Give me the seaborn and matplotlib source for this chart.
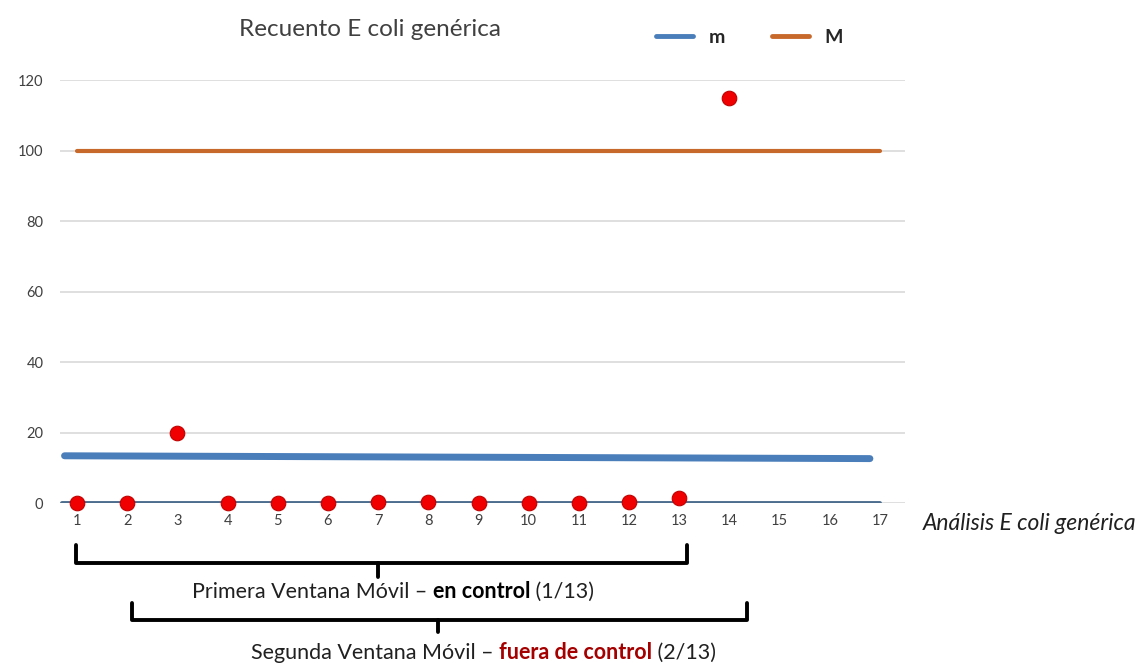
import seaborn as sns
import pandas as pd
import numpy as np
import matplotlib
matplotlib.use('Agg')
import matplotlib.pyplot as plt

# data
analisis = list(range(1, 18))
muestra_x = [1, 2, 3, 4, 5, 6, 7, 8, 9, 10, 11, 12, 13, 14]
recuento = [0, 0, 20, 0, 0, 0, 0.3, 0.3, 0, 0, 0, 0.3, 1.5, 115]
m_x = [0.75, 16.8]
m_val = [13.4, 12.6]
M_x = [1, 17]
M_val = [100, 100]
base_x = [0.7, 17]
base_val = [0, 0]
y_ticks = [0, 20, 40, 60, 80, 100, 120]

sns.set_theme(style="white")
plt.rcParams['font.family'] = ['Lato', 'DejaVu Sans']

fig = plt.figure(figsize=(11.39, 6.63), dpi=100)
ax = fig.add_axes([0.0527, 0.2413, 0.7419, 0.638])

for yv in y_ticks:
    ax.axhline(yv, color="#d9d9d9", lw=1.2, zorder=0)

sns.lineplot(x=base_x, y=base_val, ax=ax, color="#4d6d8e", lw=2.8, zorder=2)
sns.lineplot(x=m_x, y=m_val, ax=ax, color="#4a7ebb", lw=5, zorder=2)
sns.lineplot(x=M_x, y=M_val, ax=ax, color="#c8692c", lw=3, zorder=2)
sns.scatterplot(x=muestra_x, y=recuento, ax=ax, color="#f00000", edgecolor="#c00000",
                s=110, linewidth=0.8, zorder=3, clip_on=False)

ax.set_xlim(0.66, 17.5)
ax.set_ylim(0, 120)
ax.set_xticks(analisis)
ax.set_xticklabels([str(a) for a in analisis])
ax.set_yticks(y_ticks)
for s in ax.spines.values():
    s.set_visible(False)
ax.tick_params(axis='both', length=0, labelsize=10.5, labelcolor="#404040")
ax.tick_params(axis='x', pad=8)
ax.tick_params(axis='y', pad=12)

fig.text(0.325, 0.955, "Recuento E coli genérica", ha="center", va="center",
         fontsize=17.5, color="#404040")
fig.text(0.998, 0.21, "Análisis E coli genérica", ha="right", va="center",
         fontsize=16.5, style="italic", color="#202020")

# legend
h_m = plt.Line2D([], [], color="#4a7ebb", lw=3.5)
h_M = plt.Line2D([], [], color="#c8692c", lw=3.5)
leg = fig.legend([h_m, h_M], ["m", "M"], loc="center", bbox_to_anchor=(0.658, 0.943),
                 ncol=2, frameon=False, handlelength=1.9, columnspacing=2.4,
                 prop={"weight": "bold", "size": 14})

# brackets below the axis
def bracket(x0, x1, xm, y_top, y_bot, y_tip):
    kw = dict(color="black", lw=2.8, clip_on=False, solid_capstyle="round",
              solid_joinstyle="round")
    ax.plot([x0, x0, x1, x1], [y_top, y_bot, y_bot, y_top], **kw)
    ax.plot([xm, xm], [y_bot, y_tip], **kw)

bracket(0.97, 13.15, 7.0, -11.9, -17.0, -21.0)
bracket(2.1, 14.35, 8.2, -28.4, -33.2, -36.6)

def rich(x, y, parts):
    t = ax.text(x, y, parts[0][0], fontsize=15.5, color=parts[0][1],
                fontweight=parts[0][2], va="baseline", clip_on=False)
    for txt, col, wt in parts[1:]:
        t = ax.annotate(txt, xy=(1, 0), xycoords=t, va="bottom", fontsize=15.5,
                        color=col, fontweight=wt, annotation_clip=False)
    return t

rich(3.29, -27.0, [("Primera Ventana Móvil – ", "#202020", "normal"),
                   ("en control", "black", "bold"),
                   (" (1/13)", "#202020", "normal")])
rich(4.47, -44.2, [("Segunda Ventana Móvil – ", "#202020", "normal"),
                   ("fuera de control", "#a50000", "bold"),
                   (" (2/13)", "#202020", "normal")])

fig.savefig("out.png", dpi=100)
